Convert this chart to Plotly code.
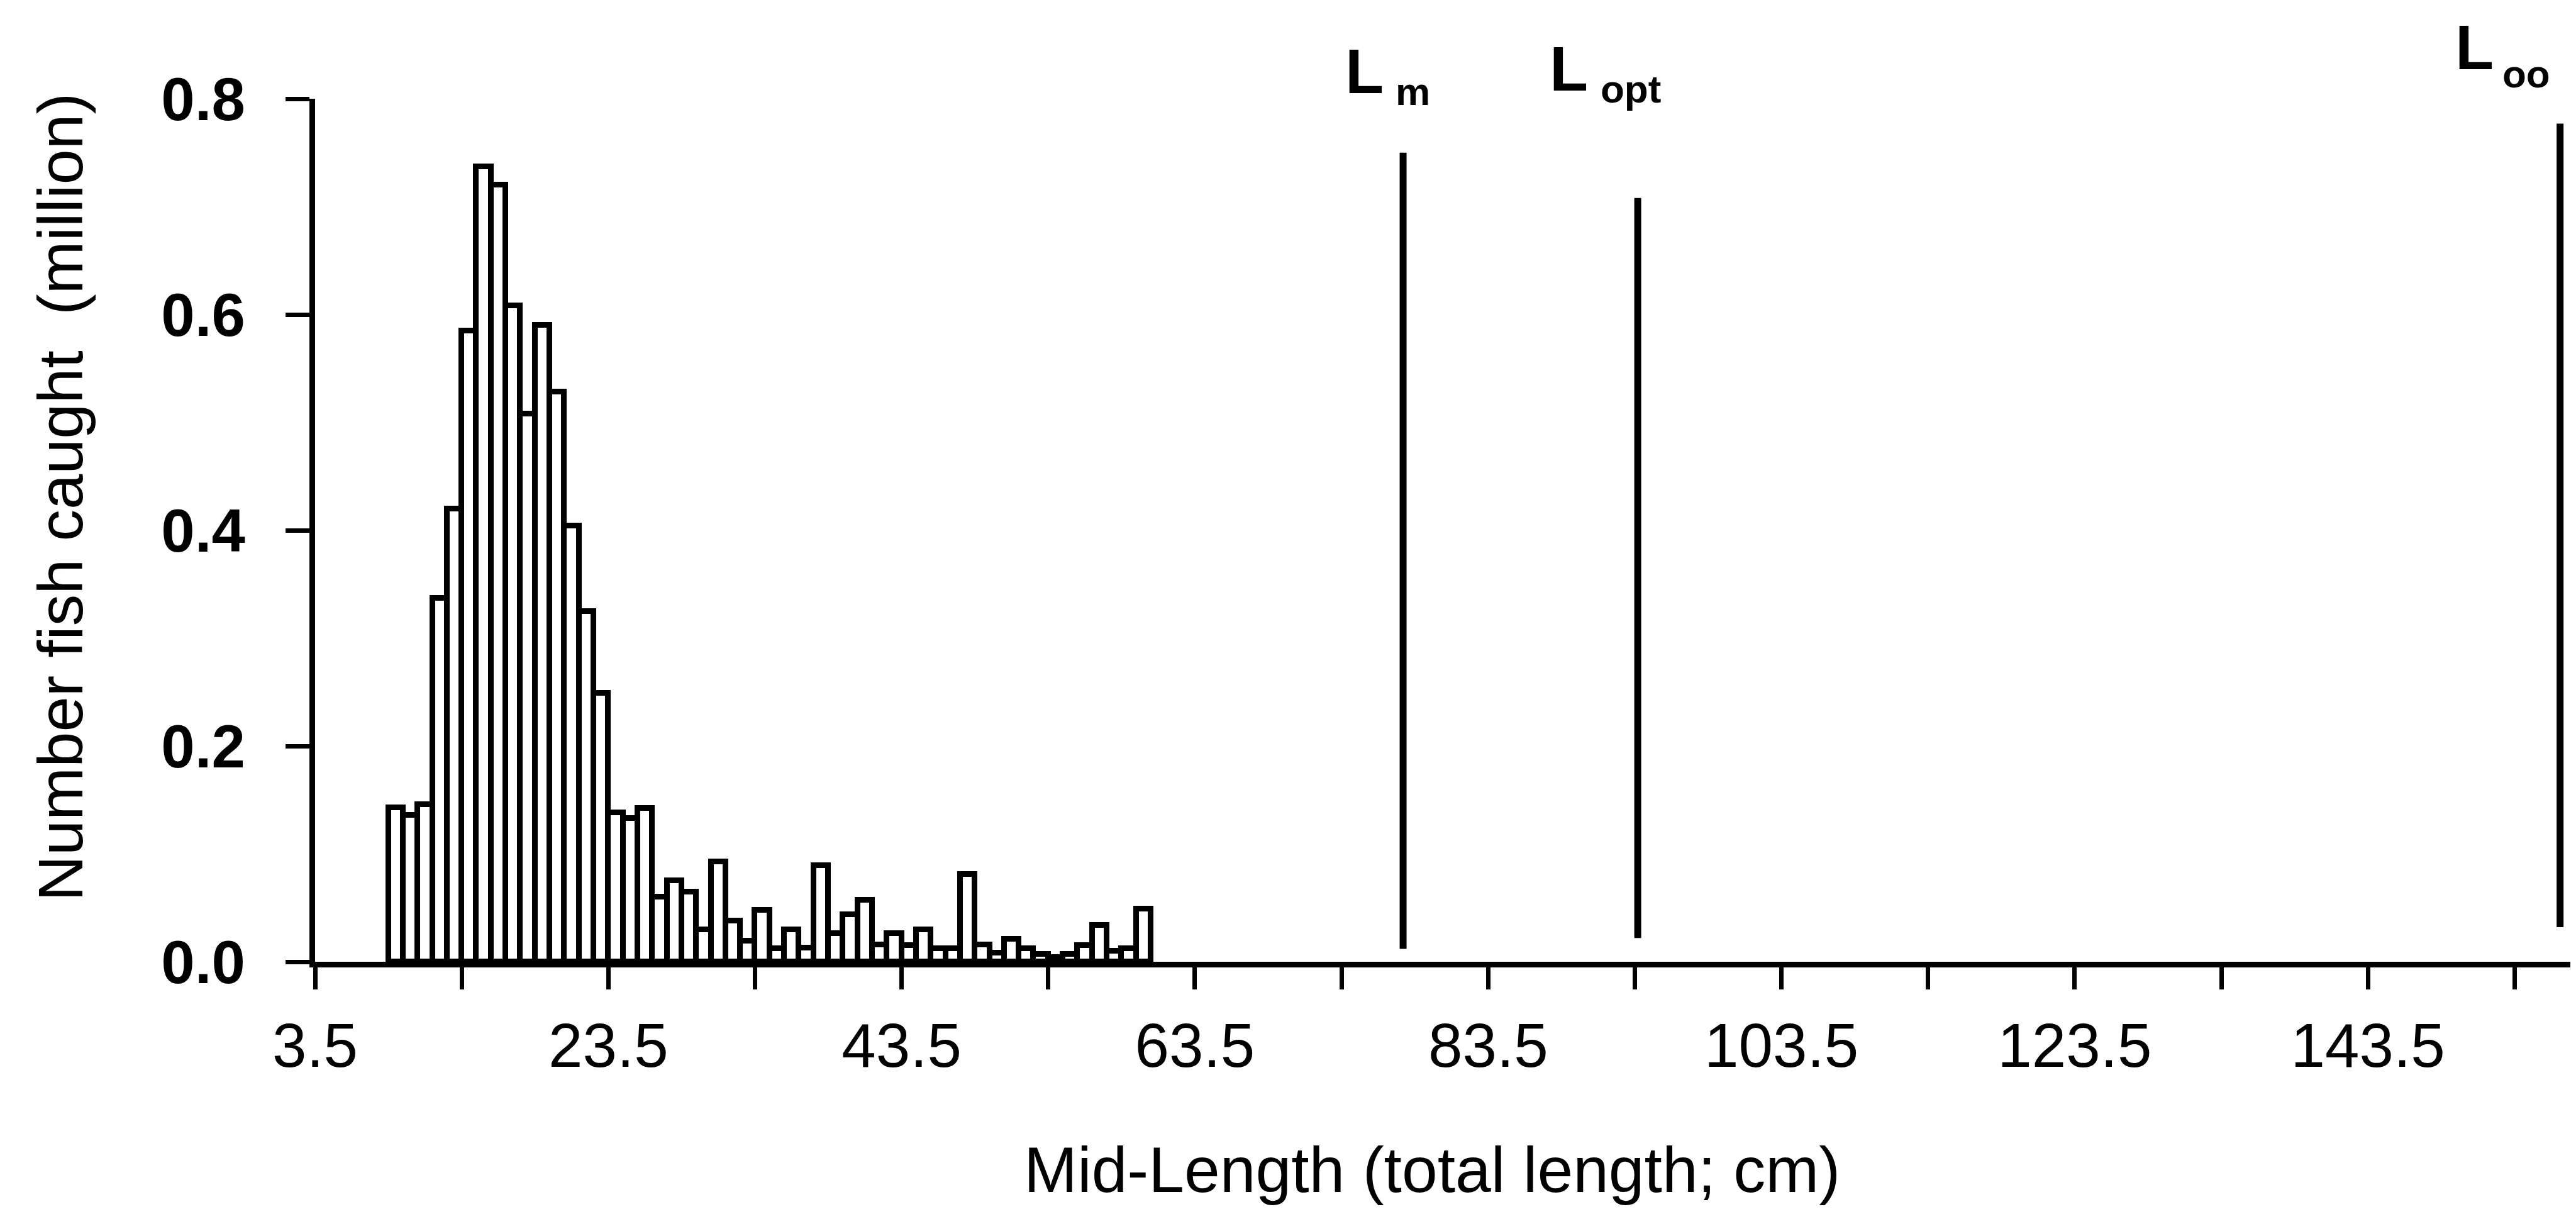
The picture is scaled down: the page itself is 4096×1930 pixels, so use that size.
import plotly.graph_objects as go

# Catch at length: mid-length classes (cm) and number caught (million)
mid_length = list(range(9, 61))
fish_caught = [
    0.143, 0.136, 0.146, 0.337, 0.420, 0.585, 0.737, 0.720, 0.608, 0.508,
    0.590, 0.528, 0.404, 0.325, 0.249, 0.138, 0.133, 0.142, 0.060, 0.075,
    0.065, 0.030, 0.093, 0.038, 0.019, 0.048, 0.012, 0.030, 0.013, 0.089,
    0.026, 0.044, 0.057, 0.016, 0.026, 0.015, 0.030, 0.012, 0.012, 0.081,
    0.016, 0.008, 0.021, 0.012, 0.007, 0.004, 0.007, 0.015, 0.034, 0.010,
    0.012, 0.049,
]

# Reference lengths: maturity, optimum and asymptotic length
ref_subscripts = ["m", "opt", "oo"]
ref_lengths = [77.7, 93.7, 156.6]
ref_line_tops = [0.750, 0.708, 0.777]
ref_line_bottoms = [0.012, 0.022, 0.032]

# Axis ticks
x_tick_values = [3.5, 13.5, 23.5, 33.5, 43.5, 53.5, 63.5, 73.5, 83.5, 93.5,
                 103.5, 113.5, 123.5, 133.5, 143.5, 153.5]
x_tick_labels = ["3.5", "", "23.5", "", "43.5", "", "63.5", "", "83.5", "",
                 "103.5", "", "123.5", "", "143.5", ""]
y_tick_values = [0.0, 0.2, 0.4, 0.6, 0.8]
y_tick_labels = ["0.0", "0.2", "0.4", "0.6", "0.8"]

SANS = "Liberation Sans, Arial, sans-serif"

fig = go.Figure()

fig.add_trace(go.Bar(
    x=mid_length,
    y=fish_caught,
    width=1.0,
    marker=dict(color="white", line=dict(color="black", width=9)),
    showlegend=False,
    hoverinfo="skip",
))

for length, bottom, top in zip(ref_lengths, ref_line_bottoms, ref_line_tops):
    fig.add_trace(go.Scatter(
        x=[length, length],
        y=[bottom, top],
        mode="lines",
        line=dict(color="black", width=11),
        showlegend=False,
        hoverinfo="skip",
    ))

# "L" with its subscript above each reference line (pixel offsets from the line)
L_shift = [-94, -142, -169]
L_y = [0.9898, 0.9927, 1.0175]
sub_shift = [-14, -61, -94]
sub_y = [0.9818, 0.9847, 1.0022]
for sub, length, lx, ly, sx, sy in zip(ref_subscripts, ref_lengths,
                                       L_shift, L_y, sub_shift, sub_y):
    fig.add_annotation(
        x=length, xref="x", xanchor="left", xshift=lx,
        y=ly, yref="paper", yanchor="bottom",
        text="L", showarrow=False,
        font=dict(family=SANS, size=100, color="black", weight=700),
    )
    fig.add_annotation(
        x=length, xref="x", xanchor="left", xshift=sx,
        y=sy, yref="paper", yanchor="bottom",
        text=sub, showarrow=False,
        font=dict(family=SANS, size=62, color="black", weight=700),
    )

# Axis titles
fig.add_annotation(
    x=-0.1129, xref="paper", xanchor="center",
    y=0.538, yref="paper", yanchor="middle",
    text="Number fish caught\u00a0 (million)",
    textangle=-90, showarrow=False,
    font=dict(family=SANS, size=101, color="black"),
)
fig.add_annotation(
    x=0.4953, xref="paper", xanchor="center",
    y=-0.2413, yref="paper", yanchor="middle",
    text="Mid-Length (total length; cm)",
    showarrow=False,
    font=dict(family=SANS, size=102, color="black"),
)

fig.update_xaxes(
    range=[3.5, 157.3],
    tickmode="array", tickvals=x_tick_values, ticktext=x_tick_labels,
    ticks="outside", ticklen=35, tickwidth=7, tickcolor="black",
    ticklabelstandoff=5,
    tickfont=dict(family=SANS, size=98, color="black"),
    showline=True, linewidth=9, linecolor="black",
    showgrid=False, zeroline=False,
)
fig.update_yaxes(
    range=[0, 0.8],
    tickmode="array", tickvals=y_tick_values, ticktext=y_tick_labels,
    ticks="outside", ticklen=38, tickwidth=7, tickcolor="black",
    ticklabelstandoff=45,
    tickfont=dict(family=SANS, size=96, color="black", weight=700),
    showline=True, linewidth=9, linecolor="black",
    showgrid=False, zeroline=False,
)

fig.update_layout(
    width=4096, height=1930, autosize=False,
    margin=dict(l=501, r=9, t=157, b=401),
    paper_bgcolor="white", plot_bgcolor="white",
    bargap=0,
)

fig.write_html("out.html")
